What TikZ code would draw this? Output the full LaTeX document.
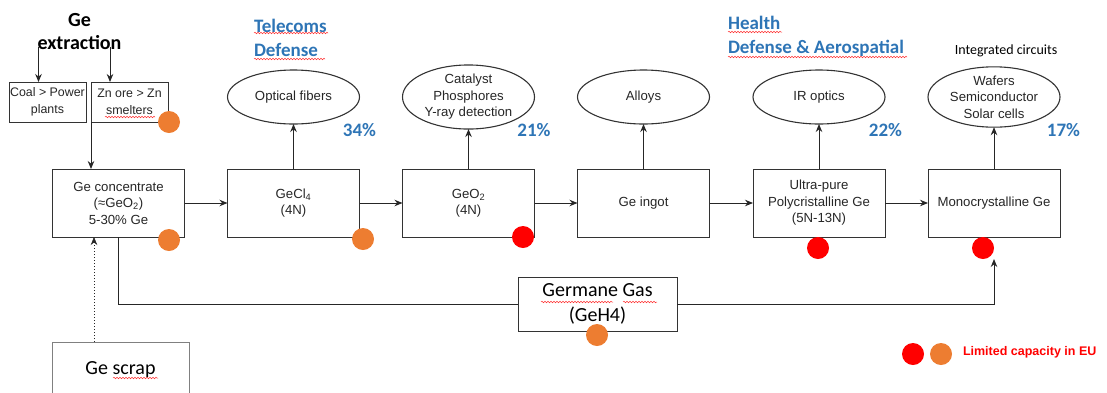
\documentclass[tikz,border=0pt]{standalone}
\usepackage{fontspec}
\setmainfont{Liberation Sans}
\newfontfamily\calibri{Carlito}
\usetikzlibrary{shapes.geometric,arrows.meta,decorations.pathmorphing}
\definecolor{capblue}{RGB}{46,117,182}
\definecolor{caporange}{RGB}{237,125,49}
\definecolor{capred}{RGB}{255,0,0}

\begin{document}
\begin{tikzpicture}[x=1pt,y=-1pt,
  every node/.style={inner sep=0pt, outer sep=0pt, align=center, text=black!85, font=\fontsize{13.2}{16.5}\selectfont},
  stage/.style={draw=black!80, line width=1pt, minimum width=132pt, minimum height=68pt},
  source/.style={draw=black!80, line width=1pt, minimum width=77pt, minimum height=40pt, font=\fontsize{12.4}{16.5}\selectfont},
  use/.style={ellipse, draw=black!80, line width=1.1pt, minimum width=132pt, minimum height=54pt},
  gasbox/.style={draw=black!80, line width=1pt, minimum width=159pt, minimum height=54pt, text=black, font=\calibri\fontsize{20}{25}\selectfont},
  share/.style={text=capblue, font=\calibri\bfseries\fontsize{19}{24}\selectfont},
  sector/.style={share, align=left, anchor=west},
  flag/.style={circle, minimum size=22pt},
  flow/.style={draw=black!85, line width=1pt, -{Stealth[length=8pt,width=6.5pt]}},
  squig/.style={draw=red!80, line width=0.5pt, decorate, decoration={snake, amplitude=0.8pt, segment length=3pt}}]
\useasboundingbox (0,0) rectangle (1107,392);

\node[text=black, font=\calibri\bfseries\fontsize{20}{23}\selectfont] (title) at (79.5,31.5) {Ge\\extraction};
\node[source] (coal) at (47.5,102) {Coal > Power\\plants};
\node[source] (zn) at (129.5,102) {Zn ore > Zn\\smelters};

\node[stage] (conc) at (118.5,203) {Ge concentrate\\(≈GeO\textsubscript{2})\\5-30\% Ge};
\node[stage] (gecl) at (293.5,203) {GeCl\textsubscript{4}\\(4N)};
\node[stage] (geo) at (468.5,203) {GeO\textsubscript{2}\\(4N)};
\node[stage] (ing) at (643.5,203) {Ge ingot};
\node[stage] (ult) at (819,203) {Ultra-pure\\Polycristalline Ge\\(5N-13N)};
\node[stage] (mono) at (994,203) {Monocrystalline Ge};

\node[use] (fib) at (293.5,97) {Optical fibers};
\node[use] (cat) at (468.5,97) {Catalyst\\Phosphores\\Υ-ray detection};
\node[use] (all) at (643.5,97) {Alloys};
\node[use] (ir) at (819,97) {IR optics};
\node[use] (waf) at (994,97) {Wafers\\Semiconductor\\Solar cells};

\node[share] (p34) at (359.5,130) {34\%};
\node[share] (p21) at (534,130) {21\%};
\node[share] (p22) at (885.5,130) {22\%};
\node[share] (p17) at (1063.5,130) {17\%};
\node[sector] (tel) at (254,37.5) {Telecoms\\Defense};
\node[sector] (hea) at (728,36) {Health\\Defense \& Aerospatial};
\node[text=black, font=\calibri\fontsize{14}{16}\selectfont] (ic) at (1006,51) {Integrated circuits};

\node[gasbox] (gas) at (597.5,304) {Germane Gas\\(GeH4)};
\node[gasbox, draw=black!50, line width=0.6pt, minimum width=137pt, minimum height=56pt] (scrap) at (120.5,370) {Ge scrap};

\coordinate (ex1) at (38.5,47);
\coordinate (ex2) at (110,47);
\draw[flow] (ex1) -- (ex1 |- coal.north);
\draw[flow] (ex2) -- (ex2 |- zn.north);
\draw[flow] (zn.south west) -- (zn.south west |- conc.north);

\draw[flow] (conc.east) -- (gecl.west);
\draw[flow] (gecl.east) -- (geo.west);
\draw[flow] (geo.east) -- (ing.west);
\draw[flow] (ing.east) -- (ult.west);
\draw[flow] (ult.east) -- (mono.west);

\draw[flow] (gecl.north) -- (fib.south);
\draw[flow] (geo.north) -- (cat.south);
\draw[flow] (ing.north) -- (all.south);
\draw[flow] (ult.north) -- (ir.south);
\draw[flow] (mono.north) -- (waf.south);

\draw[flow, dotted, line width=0.6pt] ([xshift=-26.5pt]scrap.north) -- ([xshift=-26.5pt]scrap.north |- conc.south);
\draw[flow, -] (conc.south) |- (gas.west);
\draw[flow] (gas.east) -| ([yshift=-22pt]mono.south);

\node[flag, fill=caporange] (fzn) at (169,122) {};
\node[flag, fill=caporange] (fconc) at (169,240) {};
\node[flag, fill=caporange] (fgecl) at (363,239) {};
\node[flag, fill=capred] (fgeo) at (523,237) {};
\node[flag, fill=capred] (fult) at (818,248) {};
\node[flag, fill=capred] (fmono) at (983,248) {};
\node[flag, fill=caporange] (fgas) at (597,335) {};

\node[flag, fill=capred] (lred) at (913,354) {};
\node[flag, fill=caporange] (lorange) at (941,354) {};
\node[anchor=west, text=capred, font=\bfseries\fontsize{12.5}{15}\selectfont] (legend) at (963,352) {Limited capacity in EU};

\draw[squig] (105,117) -- (155,117);
\draw[squig] (254,33) -- (328,33);
\draw[squig] (254,59) -- (325,59);
\draw[squig] (728,32) -- (782,32);
\draw[squig] (728,57) -- (907,57);
\draw[squig] (541,302) -- (613,302);
\draw[squig] (623,302) -- (657,302);
\draw[squig] (113,378) -- (158,378);
\end{tikzpicture}
\end{document}
